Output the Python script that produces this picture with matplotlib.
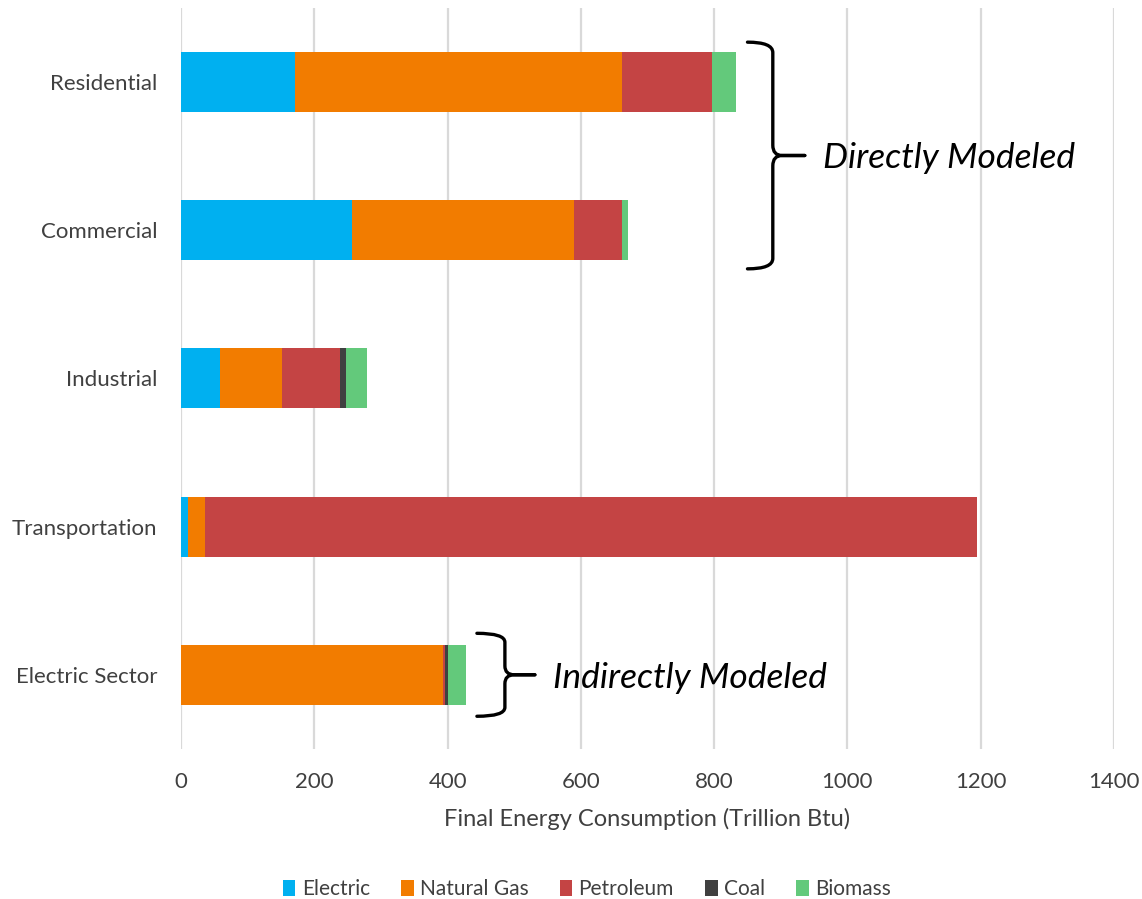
import matplotlib
matplotlib.use("Agg")
import matplotlib.pyplot as plt
from matplotlib.path import Path
from matplotlib.patches import PathPatch
import numpy as np

plt.rcParams['font.family'] = ['Lato', 'DejaVu Sans']

# data (trillion Btu)
sectors = ['Residential', 'Commercial', 'Industrial', 'Transportation', 'Electric Sector']
fuels = ['Electric', 'Natural Gas', 'Petroleum', 'Coal', 'Biomass']
electric = [171, 256, 59, 10, 0]
natural_gas = [490, 333, 93, 26, 393]
petroleum = [136, 73, 87, 1158, 3]
coal = [0, 0, 9, 0, 4]
biomass = [36, 9, 31, 0, 27]
colors = ['#00B0F0', '#F27C00', '#C44444', '#404040', '#63C97B']

series = [electric, natural_gas, petroleum, coal, biomass]

fig = plt.figure(figsize=(11.42, 8.99), dpi=100)
ax = fig.add_axes([0.1585, 0.167, 0.817, 0.824])

y = np.arange(len(sectors))
left = np.zeros(len(sectors))
for name, vals, c in zip(fuels, series, colors):
    ax.barh(y, vals, left=left, height=0.405, color=c, label=name, zorder=3)
    left += np.array(vals)
totals = left

ax.set_xlim(0, 1400)
ax.set_ylim(len(sectors) - 0.5, -0.5)
ax.set_xticks(np.arange(0, 1401, 200))
ax.set_yticks(y)
ax.set_yticklabels(sectors, fontsize=16, color='#404040')
ax.tick_params(axis='x', labelsize=16, labelcolor='#404040', length=0, pad=17)
ax.tick_params(axis='y', length=0, pad=17)
ax.grid(axis='x', color='#D9D9D9', linewidth=1.6, zorder=0)
for s in ax.spines.values():
    s.set_visible(False)
ax.set_xlabel('Final Energy Consumption (Trillion Btu)', fontsize=17, color='#404040', labelpad=11)


def brace(ax, x0, ytop, ybot, dv=38, dt=48, rx=14, ry=0.07, **kw):
    xv = x0 + dv
    xt = xv + dt
    ym = (ytop + ybot) / 2
    verts = [(x0, ytop), (xv, ytop), (xv, ytop + ry),
             (xv, ym - ry), (xv, ym), (xv + rx, ym), (xt, ym)]
    codes = [Path.MOVETO, Path.CURVE3, Path.CURVE3,
             Path.LINETO, Path.CURVE3, Path.CURVE3, Path.LINETO]
    ax.add_patch(PathPatch(Path(verts, codes), fill=False, **kw))
    verts2 = [(x0, ybot), (xv, ybot), (xv, ybot - ry),
              (xv, ym + ry), (xv, ym), (xv + rx, ym), (xt, ym)]
    ax.add_patch(PathPatch(Path(verts2, codes), fill=False, **kw))
    return xt, ym


xt, ym = brace(ax, totals[0] + 17, -0.27, 1.26, lw=2.4, color='black',
               zorder=4, clip_on=False, capstyle='round', joinstyle='round')
ax.text(xt + 27, ym + 0.02, 'Directly Modeled', fontsize=25.5, style='italic',
        va='center', ha='left', zorder=5)
xt, ym = brace(ax, totals[4] + 17, 3.72, 4.28, dv=42, dt=45, ry=0.06,
               lw=2.4, color='black', zorder=4, clip_on=False,
               capstyle='round', joinstyle='round')
ax.text(xt + 27, ym + 0.02, 'Indirectly Modeled', fontsize=25.5, style='italic',
        va='center', ha='left', zorder=5)

ax.legend(loc='center', bbox_to_anchor=(0.514, 0.011), bbox_transform=fig.transFigure,
          ncol=5, frameon=False, fontsize=15, handlelength=0.6, handleheight=0.8,
          handletextpad=0.3, columnspacing=1.5, labelcolor='#404040')

fig.savefig('out.png', dpi=100)
